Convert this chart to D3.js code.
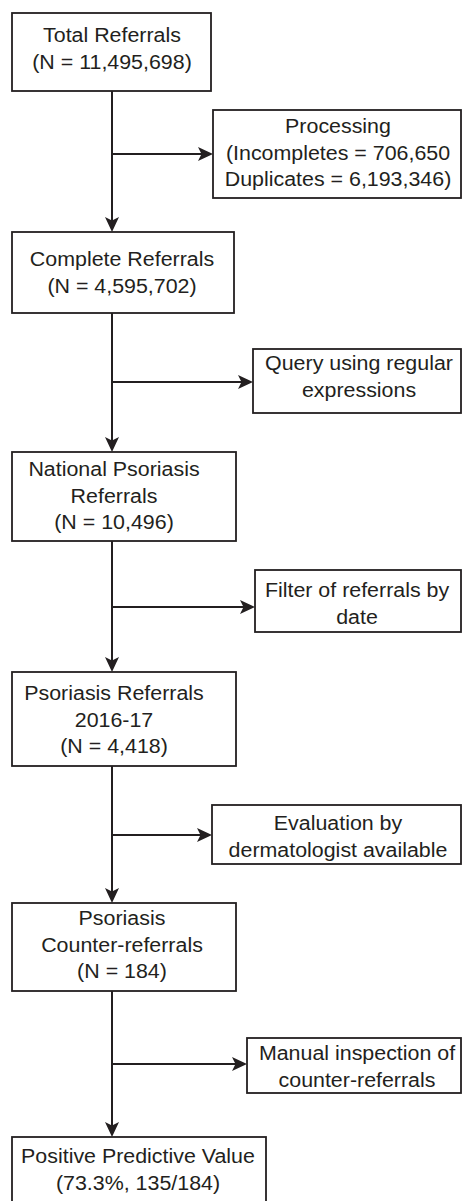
<!DOCTYPE html>
<html>
<head>
<meta charset="utf-8">
<script src="https://cdn.jsdelivr.net/npm/d3@7"></script>
<style>
  html, body { margin: 0; padding: 0; background: #fff; }
  svg { display: block; }
  text { font-family: "Liberation Sans", Arial, Helvetica, sans-serif; fill: #231f20; }
</style>
</head>
<body>
<svg id="chart" width="463" height="1201"></svg>
<script>
// ---------------- DATA ----------------
const stepTitles = [
  ["Total Referrals"],
  ["Complete Referrals"],
  ["National Psoriasis", "Referrals"],
  ["Psoriasis Referrals", "2016-17"],
  ["Psoriasis", "Counter-referrals"],
  ["Positive Predictive Value"]
];
const stepCounts = [11495698, 4595702, 10496, 4418, 184];
const ppvPositive = 135;
const ppvTotal = 184;
const ppvPercent = 73.3;

const processLabels = [
  ["Processing", "(Incompletes = 706,650", "Duplicates = 6,193,346)"],
  ["Query using regular", "expressions"],
  ["Filter of referrals by", "date"],
  ["Evaluation by", "dermatologist available"],
  ["Manual inspection of", "counter-referrals"]
];

// ---------------- LAYOUT ----------------
const mainGeom = [
  {x0: 12, x1: 211, y0: 13,   y1: 91,   tx: 112, base: 42},
  {x0: 12, x1: 234, y0: 232,  y1: 313,  tx: 122, base: 266},
  {x0: 12, x1: 236, y0: 452,  y1: 541,  tx: 114, base: 476},
  {x0: 12, x1: 236, y0: 672,  y1: 766,  tx: 114, base: 700},
  {x0: 12, x1: 236, y0: 903,  y1: 991,  tx: 122, base: 925},
  {x0: 12, x1: 266, y0: 1137, y1: 1215, tx: 138, base: 1163}
];
const sideGeom = [
  {x0: 213, x1: 461, y0: 110,  y1: 198,  ay: 154,  tx: 338, base: 133},
  {x0: 253, x1: 461, y0: 349,  y1: 413,  ay: 382,  tx: 359, base: 370},
  {x0: 255, x1: 461, y0: 570,  y1: 632,  ay: 607,  tx: 357, base: 597},
  {x0: 212, x1: 461, y0: 805,  y1: 864,  ay: 835,  tx: 338, base: 830},
  {x0: 247, x1: 461, y0: 1038, y1: 1093, ay: 1064, tx: 357, base: 1060}
];
const trunkX = 112;
const lineH = 26.5;
const fontSize = 20;
const stretchX = 1.07;
const ink = "#231f20";

const fmt = d3.format(",");
const mainLines = stepTitles.map((t, i) => {
  if (i < stepCounts.length) return t.concat(["(N = " + fmt(stepCounts[i]) + ")"]);
  return t.concat(["(" + ppvPercent.toFixed(1) + "%, " + ppvPositive + "/" + ppvTotal + ")"]);
});

const svg = d3.select("#chart");

// arrowhead path: tip at origin pointing +x
const headPath = "M0,0 L-15,-7 L-11.5,0 L-15,7 Z";

// trunk connectors
const linkG = svg.append("g");
for (let i = 0; i < mainGeom.length - 1; i++) {
  const a = mainGeom[i], b = mainGeom[i + 1];
  linkG.append("line")
    .attr("x1", trunkX).attr("x2", trunkX)
    .attr("y1", a.y1).attr("y2", b.y0 - 8)
    .attr("stroke", ink).attr("stroke-width", 2);
  linkG.append("path")
    .attr("d", headPath)
    .attr("transform", `translate(${trunkX},${b.y0}) rotate(90)`)
    .attr("fill", ink);
}
// side connectors
sideGeom.forEach(s => {
  linkG.append("line")
    .attr("x1", trunkX).attr("x2", s.x0 - 8)
    .attr("y1", s.ay).attr("y2", s.ay)
    .attr("stroke", ink).attr("stroke-width", 2);
  linkG.append("path")
    .attr("d", headPath)
    .attr("transform", `translate(${s.x0},${s.ay})`)
    .attr("fill", ink);
});

function drawBox(g, geom, lines) {
  g.append("rect")
    .attr("x", geom.x0).attr("y", geom.y0)
    .attr("width", geom.x1 - geom.x0).attr("height", geom.y1 - geom.y0)
    .attr("fill", "#fff").attr("stroke", ink).attr("stroke-width", 1.8);
  lines.forEach((ln, j) => {
    g.append("text")
      .attr("transform", `translate(${geom.tx},${geom.base + j * lineH}) scale(${stretchX},1)`)
      .attr("text-anchor", "middle")
      .attr("font-size", fontSize)
      .text(ln);
  });
}

const boxG = svg.append("g");
mainGeom.forEach((g, i) => drawBox(boxG, g, mainLines[i]));
sideGeom.forEach((g, i) => drawBox(boxG, g, processLabels[i]));
</script>
</body>
</html>
